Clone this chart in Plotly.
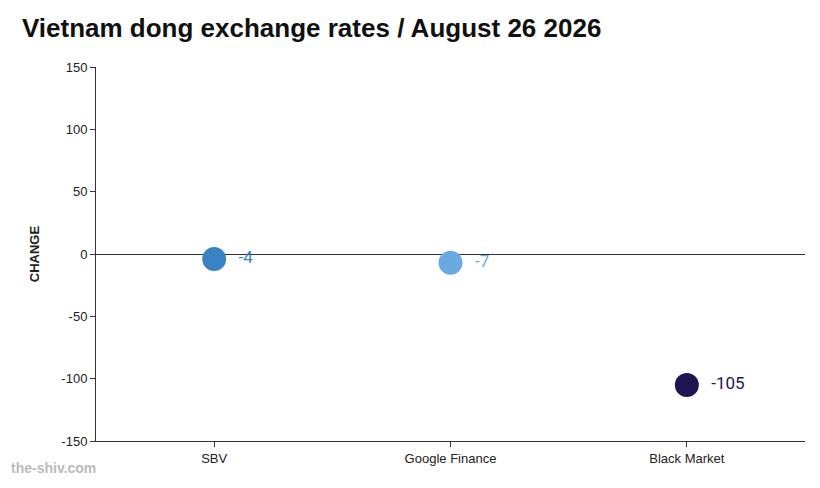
import plotly.graph_objects as go

categories = ["SBV", "Google Finance", "Black Market"]
values = [-4, -7, -105]
colors = ["#3a82c4", "#6aaae0", "#1e1650"]
labels = ["-4", "-7", "-105"]
ytick_vals = [-150, -100, -50, 0, 50, 100, 150]
ytick_text = ["-150", "-100", "-50", "0", "50", "100", "150"]

fig = go.Figure()
fig.add_trace(go.Scatter(
    x=[0, 1, 2], y=values, mode="markers+text",
    marker=dict(size=24, color=colors),
    text=["  " + l for l in labels], textposition="middle right",
    textfont=dict(size=17, color=colors, family="Roboto, sans-serif"),
    cliponaxis=False, showlegend=False, hoverinfo="skip"))

fig.update_layout(
    width=820, height=488, plot_bgcolor="white", paper_bgcolor="white",
    margin=dict(l=88, r=23, t=59, b=55),
    font=dict(family="Liberation Sans, Arial, sans-serif", color="#222"),
    title=dict(text="<b>Vietnam dong exchange rates / August 26 2026</b>",
               x=0.017, xanchor="left", y=0.96, yanchor="middle",
               font=dict(size=26, color="#111")),
    xaxis=dict(range=[-0.5, 2.5], tickvals=[0, 1, 2], ticktext=categories,
               showgrid=False, zeroline=False, showline=True, linecolor="#333",
               ticks="outside", ticklen=5, tickcolor="#333", tickfont=dict(size=13)),
    yaxis=dict(range=[-150, 150], tickvals=ytick_vals, ticktext=ytick_text,
               showgrid=False, zeroline=True, zerolinecolor="#333", zerolinewidth=1,
               showline=True, linecolor="#333", ticks="outside", ticklen=5,
               tickcolor="#333", tickfont=dict(size=13),
               title=dict(text="<b>CHANGE</b>", font=dict(size=13), standoff=18)),
)
fig.add_annotation(text="<b>the-shiv.com</b>", xref="paper", yref="paper",
                   x=-0.123, y=-0.045, xanchor="left", yanchor="top", showarrow=False,
                   font=dict(size=14, color="#bbb"))
fig.write_html("out.html")
